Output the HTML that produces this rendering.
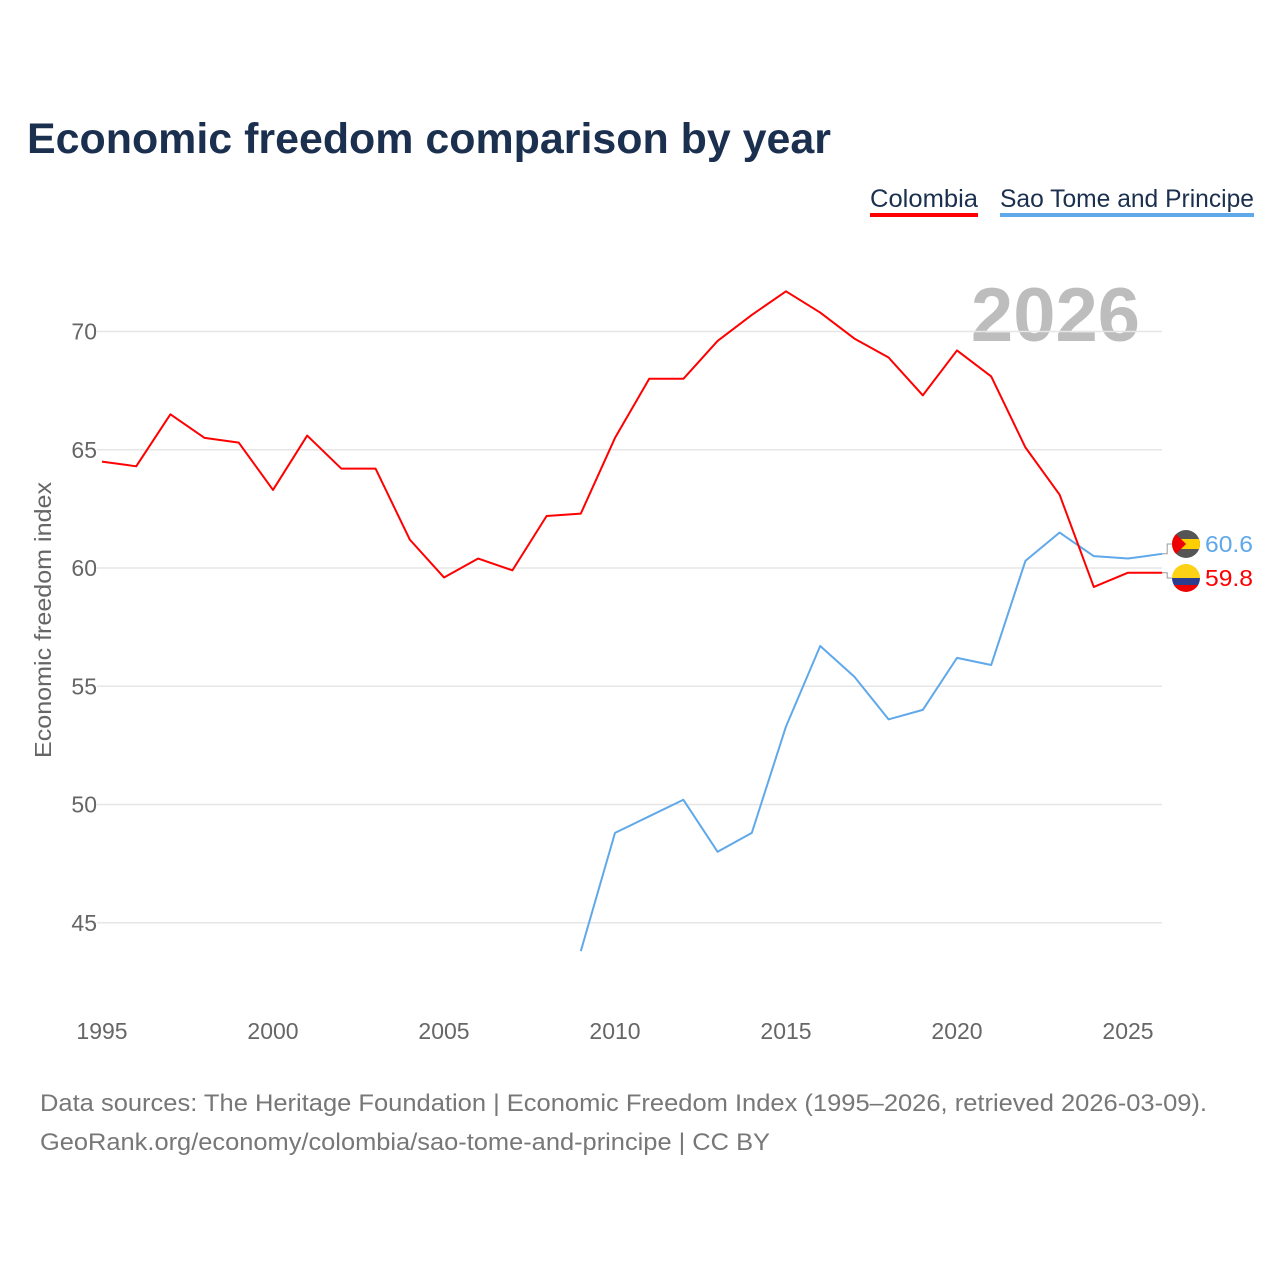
<!DOCTYPE html>
<html><head><meta charset="utf-8">
<style>
body{margin:0;background:#fff;width:1280px;height:1280px;overflow:hidden;font-family:"Liberation Sans",sans-serif;}
</style></head>
<body>
<svg id="chart" width="1280" height="1280" xmlns="http://www.w3.org/2000/svg" font-family="Liberation Sans, sans-serif">
<text x="27" y="153" font-size="43" font-weight="bold" fill="#1b2f4f" textLength="804" lengthAdjust="spacingAndGlyphs">Economic freedom comparison by year</text>
<g>
<text x="870" y="207" font-size="25" fill="#1b2f4f" textLength="108" lengthAdjust="spacingAndGlyphs">Colombia</text>
<rect x="870" y="213" width="108" height="4" fill="#ff0000"/>
<text x="1000" y="207" font-size="25" fill="#1b2f4f" textLength="254" lengthAdjust="spacingAndGlyphs">Sao Tome and Principe</text>
<rect x="1000" y="213" width="254" height="4" fill="#5fa8ea"/>
</g>
<text x="1140" y="341" text-anchor="end" font-size="76" font-weight="bold" fill="#bdbdbd">2026</text>
<g id="grid"></g><g id="axes"></g><g id="lines"></g>
<text transform="translate(51,620) rotate(-90)" text-anchor="middle" font-size="23" fill="#666" textLength="276" lengthAdjust="spacingAndGlyphs">Economic freedom index</text>
<text x="40" y="1111" font-size="24" fill="#777" textLength="1167" lengthAdjust="spacingAndGlyphs">Data sources: The Heritage Foundation | Economic Freedom Index (1995–2026, retrieved 2026-03-09).</text>
<text x="40" y="1150" font-size="24" fill="#777" textLength="730" lengthAdjust="spacingAndGlyphs">GeoRank.org/economy/colombia/sao-tome-and-principe | CC BY</text>
</svg>
<script>
const colYears=[1995,1996,1997,1998,1999,2000,2001,2002,2003,2004,2005,2006,2007,2008,2009,2010,2011,2012,2013,2014,2015,2016,2017,2018,2019,2020,2021,2022,2023,2024,2025,2026];
const colombia=[64.5,64.3,66.5,65.5,65.3,63.3,65.6,64.2,64.2,61.2,59.6,60.4,59.9,62.2,62.3,65.5,68.0,68.0,69.6,70.7,71.7,70.8,69.7,68.9,67.3,69.2,68.1,65.1,63.1,59.2,59.8,59.8];
const stpYears=[2009,2010,2011,2012,2013,2014,2015,2016,2017,2018,2019,2020,2021,2022,2023,2024,2025,2026];
const stp=[43.8,48.8,49.5,50.2,48.0,48.8,53.3,56.7,55.4,53.6,54.0,56.2,55.9,60.3,61.5,60.5,60.4,60.6];
const yTicks=[45,50,55,60,65,70];
const xTicks=[1995,2000,2005,2010,2015,2020,2025];
const NS="http://www.w3.org/2000/svg";
const x=yr=>102+(yr-1995)*34.2;
const y=v=>568-(v-60)*23.65;
function mk(t,a,p){const e=document.createElementNS(NS,t);for(const k in a)e.setAttribute(k,a[k]);p.appendChild(e);return e;}
const grid=document.getElementById('grid'),axes=document.getElementById('axes'),lines=document.getElementById('lines');
yTicks.forEach(v=>{
 const l=mk('line',{x1:97,x2:1162,y1:y(v),y2:y(v),stroke:'#e6e6e6','stroke-width':1.5},grid);
 
 
 const t=mk('text',{x:97,y:y(v)+8,'text-anchor':'end','font-size':23,fill:'#666'},axes);t.textContent=v;
 
 
});
xTicks.forEach(v=>{
 const t=mk('text',{x:x(v),y:1039,'text-anchor':'middle','font-size':23,fill:'#666'},axes);t.textContent=v;
 
 
});
function series(yrs,vals,col,name){
 const p=mk('polyline',{points:yrs.map((yr,i)=>x(yr)+','+y(vals[i])).join(' '),fill:'none',stroke:col,'stroke-width':2,'stroke-linejoin':'round'},lines);
 
 
}
series(stpYears,stp,'#5fa8ea','sao-tome');
series(colYears,colombia,'#ff0000','colombia');
function endLabel(yrs,vals,col,name,ly,flag){
 const lx=x(yrs[yrs.length-1]),v=vals[vals.length-1];
 mk('polyline',{points:`${lx},${y(v)} ${lx+5},${y(v)} ${lx+5},${ly} ${lx+10},${ly}`,fill:'none',stroke:'#999','stroke-width':1},lines);
 const g=mk('g',{},lines);
 
 
 flag(g,1186,ly);
 const t=mk('text',{x:1205,y:ly+8,'font-size':23,fill:col,textLength:48,lengthAdjust:'spacingAndGlyphs'},lines);t.textContent=v.toFixed(1);
 
 
}
const cp=mk('clipPath',{id:'c1'},document.getElementById('chart'));mk('circle',{cx:1186,cy:544,r:14},cp);
const cp2=mk('clipPath',{id:'c2'},document.getElementById('chart'));mk('circle',{cx:1186,cy:578,r:14},cp2);
endLabel(stpYears,stp,'#5fa8ea','sao-tome',544,(g,cx,cy)=>{
 const h=mk('g',{'clip-path':'url(#c1)'},g);
 mk('rect',{x:cx-14,y:cy-14,width:28,height:28,fill:'#555'},h);
 mk('rect',{x:cx-14,y:cy-5,width:28,height:10,fill:'#ffce00'},h);
 mk('polygon',{points:`${cx-14},${cy-14} ${cx},${cy} ${cx-14},${cy+14}`,fill:'#e00'},h);
});
endLabel(colYears,colombia,'#ff0000','colombia',578,(g,cx,cy)=>{
 const h=mk('g',{'clip-path':'url(#c2)'},g);
 mk('rect',{x:cx-14,y:cy-14,width:28,height:14,fill:'#fcd116'},h);
 mk('rect',{x:cx-14,y:cy,width:28,height:7,fill:'#2a3d8f'},h);
 mk('rect',{x:cx-14,y:cy+7,width:28,height:7,fill:'#e00'},h);
});
</script>
</body></html>
